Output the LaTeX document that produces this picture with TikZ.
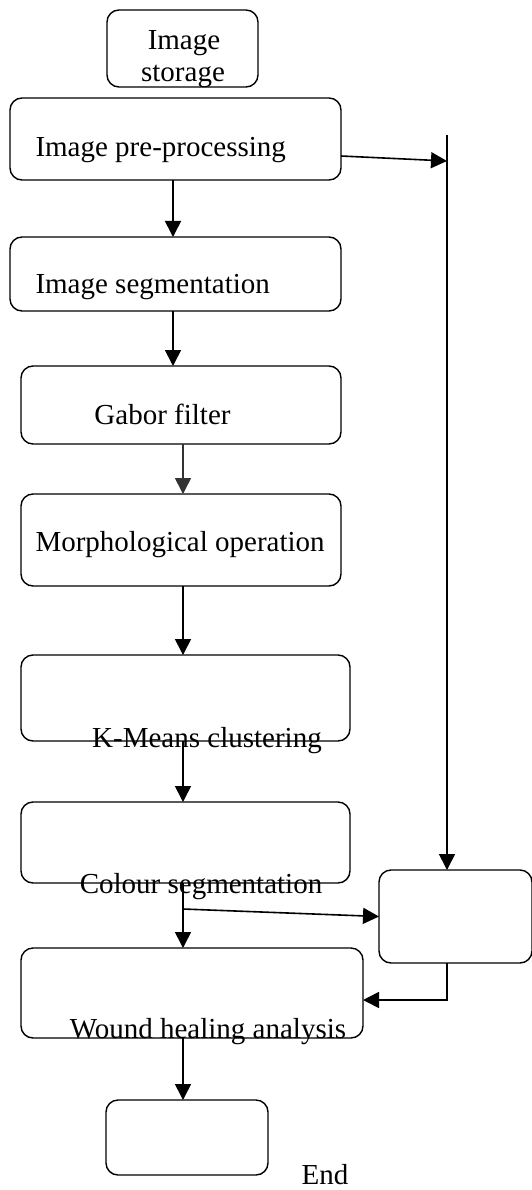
\documentclass[tikz,border=0pt]{standalone}
\usepackage{fontspec}
\setmainfont{Liberation Serif}
\usetikzlibrary{arrows.meta,calc}
\begin{document}
\begin{tikzpicture}[x=1pt,y=-1pt,
  box/.style={draw,line width=1.4pt,rounded corners=12pt,inner sep=0pt,outer sep=0pt},
  lbl/.style={inner sep=0pt,outer sep=0pt,font=\fontsize{29}{32}\selectfont},
  arr/.style={line width=1.6pt,-{Triangle[length=16pt,width=16pt]}},
  ln/.style={line width=1.6pt}]
\useasboundingbox (0,0) rectangle (531,1190);
% boxes
\node[box,minimum width=151pt,minimum height=77pt] (store) at (182.5,48.5) {};
\node[box,minimum width=331pt,minimum height=82pt] (pre) at (175.5,139) {};
\node[box,minimum width=331pt,minimum height=74pt] (seg) at (175.5,274) {};
\node[box,minimum width=320pt,minimum height=78pt] (gab) at (181,405) {};
\node[box,minimum width=320pt,minimum height=92pt] (mor) at (181,540) {};
\node[box,minimum width=329pt,minimum height=86pt] (km) at (185.5,698) {};
\node[box,minimum width=329pt,minimum height=81pt] (col) at (185.5,842.5) {};
\node[box,minimum width=153pt,minimum height=93pt] (rb) at (455.5,916.5) {};
\node[box,minimum width=342pt,minimum height=90pt] (wnd) at (192,993) {};
\node[box,minimum width=162pt,minimum height=75pt] (endb) at (187,1137.5) {};
% texts
\node[lbl,anchor=base] (t1) at (184,50) {Image};
\node[lbl,anchor=base] (t2) at (183,82) {storage};
\node[lbl,anchor=base west] (t3) at (35.5,157) {Image pre-processing};
\node[lbl,anchor=base west] (t4) at (35.5,293) {Image segmentation};
\node[lbl,anchor=base] (t5) at (162.5,424) {Gabor filter};
\node[lbl,anchor=base west] (t6) at (35.5,551) {Morphological operation};
\node[lbl,anchor=base] (t7) at (207,747) {K-Means clustering};
\node[lbl,anchor=base] (t8) at (201,893) {Colour segmentation};
\node[lbl,anchor=base] (t9) at (208,1038) {Wound healing analysis};
\node[lbl,anchor=base] (t10) at (325,1184) {End};
% coordinates
\coordinate (vtop) at (447,135);
\coordinate (vjoin) at (447,161);
\coordinate (pout) at ($(pre.east)+(0,17)$);
\coordinate (ax) at (173,0);
\coordinate (cx) at (183,0);
\coordinate (br) at (183,909);
% connectors
\draw[arr] (pre.south -| ax) -- (seg.north -| ax);
\draw[arr] (seg.south -| ax) -- (gab.north -| ax);
\draw[arr,draw=black!80] (gab.south -| cx) -- (mor.north -| cx);
\draw[arr] (mor.south -| cx) -- (km.north -| cx);
\draw[arr] (km.south -| cx) -- (col.north -| cx);
\draw[arr] (col.south -| cx) -- (wnd.north -| cx);
\draw[arr] (br) -- (rb.west);
\draw[arr] (wnd.south -| cx) -- (endb.north -| cx);
\draw[arr] (pout) -- (vjoin);
\draw[arr] (vtop) -- (vtop |- rb.north);
\draw[arr] (rb.south -| vtop) |- ($(wnd.east)+(0,7)$);
\end{tikzpicture}
\end{document}
